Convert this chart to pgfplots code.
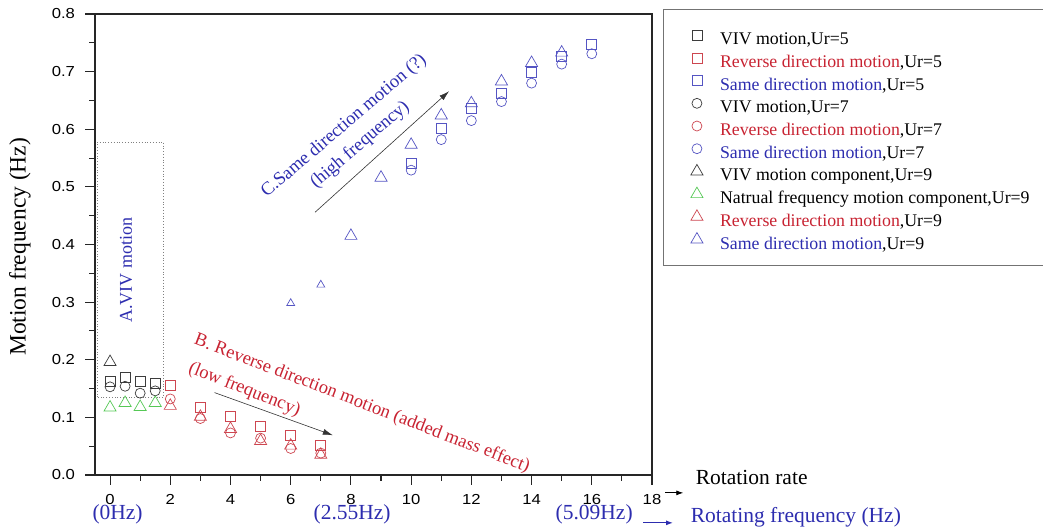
\documentclass[border=0pt]{standalone}
\usepackage{fontspec}
\setmainfont{Liberation Serif}
\newfontfamily\ticksf[FakeStretch=1.15]{Liberation Sans}
\usepackage{pgfplots}
\pgfplotsset{compat=1.18}
\usetikzlibrary{arrows.meta}

\definecolor{mkblack}{RGB}{60,60,60}
\definecolor{mkred}{RGB}{205,70,80}
\definecolor{mkblue}{RGB}{85,85,195}
\definecolor{mkgreen}{RGB}{85,200,85}
\definecolor{txred}{RGB}{200,35,50}
\definecolor{txblue}{RGB}{45,45,175}

\newcommand{\annfont}{\fontsize{18.5}{25}\rmfamily}
\newcommand{\bottomfont}{\fontsize{21.5}{24}\rmfamily}

\begin{document}
\begin{tikzpicture}
\begin{axis}[
  scale only axis, width=557pt, height=461pt,
  at={(0,0)}, anchor=south west,
  xmin=-0.5, xmax=18, ymin=0, ymax=0.8,
  xtick={0,2,4,6,8,10,12,14,16,18},
  ytick={0,0.1,0.2,0.3,0.4,0.5,0.6,0.7,0.8},
  minor x tick num=1, minor y tick num=1,
  tick pos=left, tick align=outside,
  major tick length=9.5pt, minor tick length=5.5pt,
  axis line style={line width=1.1pt, black!85},
  every tick/.style={line width=1.1pt, black!85},
  ticklabel style={font=\fontsize{14.5}{17}\ticksf},
  xticklabel shift=6pt, yticklabel shift=7pt,
  /pgf/number format/assume math mode=true,
  yticklabel style={/pgf/number format/.cd, fixed, fixed zerofill, precision=1},
  ylabel={Motion frequency (Hz)},
  ylabel style={font=\fontsize{23.5}{26}\rmfamily, at={(rel axis cs:-0.135,0.495)}, anchor=center},
  clip=false,
  legend cell align=left,
  legend style={at={(rel axis cs:1.0197,1.0108)}, anchor=north west,
    draw=black!55, line width=0.8pt, fill=white,
    inner xsep=27.5pt, inner ysep=15.3pt, row sep=1.7pt, column sep=17pt,
    font=\fontsize{17.8}{20}\rmfamily,
    nodes={inner sep=0pt, text height=20pt, text depth=1pt}},
]

% Ur = 5 : squares
\addplot[only marks, mark=square, mark size=5pt, mkblack, line width=0.7pt]
  coordinates {(0,0.163)(0.5,0.169)(1,0.162)(1.5,0.159)};
\addlegendentry{VIV motion,Ur=5}
\addplot[only marks, mark=square, mark size=5pt, mkred, line width=0.7pt]
  coordinates {(2,0.155)(3,0.117)(4,0.101)(5,0.084)(6,0.069)(7,0.052)};
\addlegendentry{\textcolor{txred}{Reverse direction motion},Ur=5}
\addplot[only marks, mark=square, mark size=5pt, mkblue, line width=0.7pt]
  coordinates {(10,0.541)(11,0.601)(12,0.637)(13,0.663)(14,0.699)(15,0.726)(16,0.747)};
\addlegendentry{\textcolor{txblue}{Same direction motion},Ur=5}

% Ur = 7 : circles
\addplot[only marks, mark=o, mark size=5pt, mkblack, line width=0.7pt]
  coordinates {(0,0.153)(0.5,0.154)(1,0.142)(1.5,0.146)};
\addlegendentry{VIV motion,Ur=7}
\addplot[only marks, mark=o, mark size=5pt, mkred, line width=0.7pt]
  coordinates {(2,0.132)(3,0.098)(4,0.073)(5,0.064)(6,0.046)(7,0.038)};
\addlegendentry{\textcolor{txred}{Reverse direction motion},Ur=7}
\addplot[only marks, mark=o, mark size=5pt, mkblue, line width=0.7pt]
  coordinates {(10,0.529)(11,0.582)(12,0.615)(13,0.648)(14,0.680)(15,0.713)(16,0.731)};
\addlegendentry{\textcolor{txblue}{Same direction motion},Ur=7}

% Ur = 9 : triangles
\addplot[only marks, mark=triangle, mark size=7pt, mkblack, line width=0.7pt]
  coordinates {(0,0.196)};
\addlegendentry{VIV motion component,Ur=9}
\addplot[only marks, mark=triangle, mark size=7pt, mkgreen, line width=0.7pt]
  coordinates {(0,0.117)(0.5,0.125)(1,0.118)(1.5,0.125)};
\addlegendentry{Natrual frequency motion component,Ur=9}
\addplot[only marks, mark=triangle, mark size=7pt, mkred, line width=0.7pt]
  coordinates {(2,0.120)(3,0.101)(4,0.080)(5,0.059)(6,0.051)(7,0.035)};
\addlegendentry{\textcolor{txred}{Reverse direction motion},Ur=9}
\addplot[only marks, mark=triangle, mark size=7pt, mkblue, line width=0.7pt]
  coordinates {(8,0.415)(9,0.516)(10,0.573)(11,0.624)(12,0.645)(13,0.683)(14,0.715)(15,0.733)};
\addlegendentry{\textcolor{txblue}{Same direction motion},Ur=9}
\addplot[only marks, mark=triangle, mark size=4.6pt, mkblue, line width=0.7pt, forget plot]
  coordinates {(6,0.298)(7,0.330)};

% regions and trends
\draw[dotted, black!50, line width=0.8pt] (axis cs:-0.42,0.135) rectangle (axis cs:1.77,0.578);
\node[rotate=90, text=txblue, font=\fontsize{18}{21}\rmfamily] at (axis cs:0.53,0.355) {A.VIV motion};

\node[rotate=-21, anchor=west, text=txred, font=\annfont]
  at (axis cs:2.71,0.237) {B. Reverse direction motion (added mass effect)};
\node[rotate=-21.5, anchor=west, text=txred, font=\annfont]
  at (axis cs:2.52,0.188) {(low frequency)};
\draw[-{Latex[length=10pt,width=6pt]}, line width=0.6pt, black!80]
  (axis cs:3.47,0.143) -- (axis cs:7.40,0.069);

\node[rotate=40.5, align=center, text=txblue, font=\annfont]
  at (axis cs:8.04,0.589) {C.Same direction motion (?)\\(high frequency)};
\draw[-{Latex[length=10pt,width=6pt]}, line width=0.6pt, black!80]
  (axis cs:6.81,0.456) -- (axis cs:11.26,0.666);

% axis annotations below the plot
\node[text=txblue, font=\bottomfont] at (axis cs:0.25,-0.068) {(0Hz)};
\node[text=txblue, font=\bottomfont] at (axis cs:8.04,-0.068) {(2.55Hz)};
\node[text=txblue, font=\bottomfont] at (axis cs:16.08,-0.068) {(5.09Hz)};
\node[anchor=west, font=\bottomfont] at (axis cs:19.34,-0.005) {Rotation rate};
\draw[-{Latex[length=7pt,width=5pt]}, line width=0.8pt, black]
  (axis cs:18.44,-0.031) -- (axis cs:19.04,-0.031);
\node[anchor=west, text=txblue, font=\bottomfont] at (axis cs:19.17,-0.073) {Rotating frequency (Hz)};
\draw[-{Latex[length=7pt,width=5pt]}, line width=1.2pt, txblue]
  (axis cs:17.71,-0.083) -- (axis cs:18.70,-0.083);
\end{axis}
\pgfresetboundingbox
\path[use as bounding box] (-95pt,-55pt) rectangle (948pt,475pt);
\end{tikzpicture}
\end{document}
